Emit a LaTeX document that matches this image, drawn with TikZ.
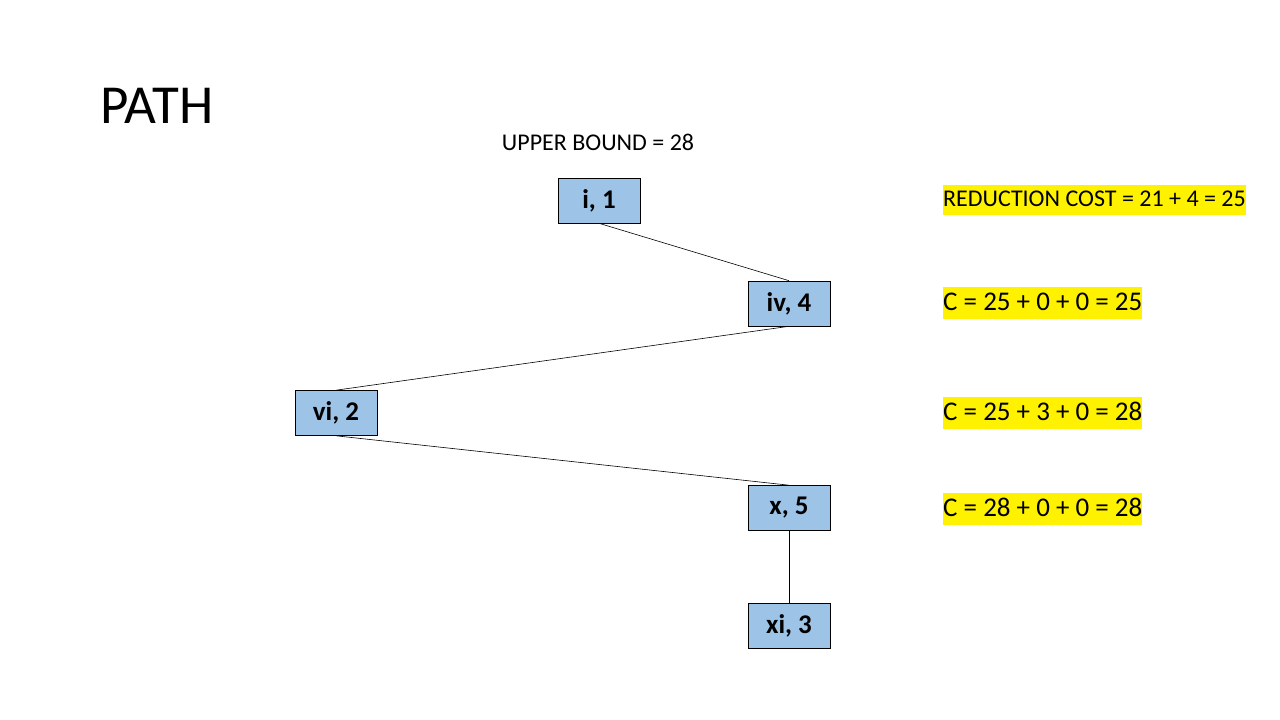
\documentclass[tikz,border=0pt]{standalone}
\usepackage{fontspec}
\setmainfont{Carlito}
\begin{document}
\begin{tikzpicture}[x=1pt,y=-1pt,
  vbox/.style={draw=black, line width=0.6pt, fill={rgb,255:red,157;green,195;blue,230}, minimum width=82pt, minimum height=45pt, inner sep=0pt, font=\fontsize{27}{30}\selectfont\bfseries},
  hl/.style={fill=yellow, anchor=west, inner xsep=0pt, text height=18pt, text depth=6pt, inner ysep=3pt, font=\fontsize{24}{28}\selectfont},
  hlc/.style={hl, text height=20pt, text depth=6pt, font=\fontsize{27}{30}\selectfont},
  edge/.style={draw=black, line width=0.6pt}]
\useasboundingbox (0,0) rectangle (1280,720);
\node[anchor=west, font=\fontsize{55}{60}\selectfont] (title) at (97,106) {PATH};
\node[font=\fontsize{24}{28}\selectfont] (ub) at (598,142) {UPPER BOUND = 28};
\node[vbox] (n1) at (599,200.5) {i, 1};
\node[vbox] (n4) at (789,303.5) {iv, 4};
\node[vbox] (n2) at (336,413) {vi, 2};
\node[vbox] (n5) at (789,508) {x, 5};
\node[vbox] (n3) at (789,626) {xi, 3};
\draw[edge] (n1.south) -- (n4.north);
\draw[edge] (n4.south) -- (n2.north);
\draw[edge] (n2.south) -- (n5.north);
\draw[edge] (n5.south) -- (n3.north);
\node[hl] (c1) at (943,200) {REDUCTION COST = 21 + 4 = 25};
\node[hlc] (c2) at (943,303) {C = 25 + 0 + 0 = 25};
\node[hlc] (c3) at (943,413) {C = 25 + 3 + 0 = 28};
\node[hlc] (c4) at (943,509) {C = 28 + 0 + 0 = 28};
\end{tikzpicture}
\end{document}
